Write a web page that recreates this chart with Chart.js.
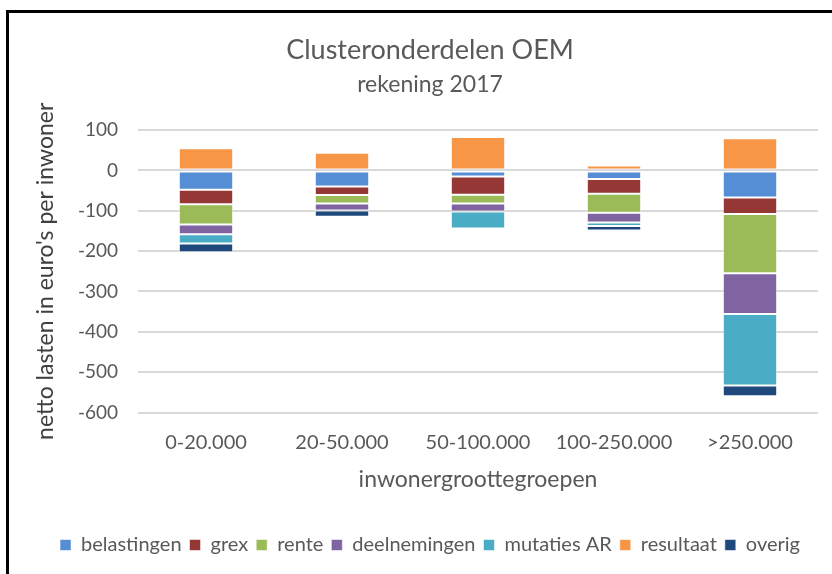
<!DOCTYPE html>
<html>
<head>
<meta charset="utf-8">
<script src="https://cdn.jsdelivr.net/npm/chart.js@4/dist/chart.umd.min.js"></script>
<style>
  html, body { margin: 0; padding: 0; background: #fff; }
  body { width: 832px; height: 574px; position: relative; overflow: hidden; }
  #frame { position: absolute; left: 6px; top: 10px; width: 900px; height: 700px; border: 3px solid #000; box-sizing: border-box; }
  #wrap { position: absolute; left: 0; top: 0; width: 832px; height: 574px; }
</style>
</head>
<body>
<div id="frame"></div>
<div id="wrap"><canvas id="c" width="832" height="574"></canvas></div>
<script>
// Netto lasten per inwoner (euro), per inwonergrootteklasse
const categories = ['0-20.000', '20-50.000', '50-100.000', '100-250.000', '>250.000'];
const belastingen  = [-48, -40, -15, -21, -67];
const grex         = [-36, -21, -45, -37, -41];
const rente        = [-50, -21, -22, -47, -147];
const deelnemingen = [-24, -17, -20, -24, -101];
const mutatiesAR   = [-23, 0, -42, -9, -177];
const resultaat    = [55, 44, 83, 12, 80];
const overig       = [-22, -16, -3, -11, -27];
const yTicks = [100, 0, -100, -200, -300, -400, -500, -600];

const FONT = 'Lato, "Open Sans", sans-serif';

function ds(label, data, color) {
  return {
    label, data,
    backgroundColor: color,
    borderColor: 'rgba(255,255,255,0.55)',
    borderWidth: 1,
    borderSkipped: false,
    stack: 's'
  };
}

new Chart(document.getElementById('c'), {
  type: 'bar',
  data: {
    labels: categories,
    datasets: [
      ds('belastingen', belastingen, '#558ED5'),
      ds('grex', grex, '#953735'),
      ds('rente', rente, '#9BBB59'),
      ds('deelnemingen', deelnemingen, '#8064A2'),
      ds('mutaties AR', mutatiesAR, '#4BACC6'),
      ds('resultaat', resultaat, '#F79646'),
      ds('overig', overig, '#1F497D')
    ]
  },
  options: {
    responsive: false,
    animation: false,
    layout: { padding: { left: 42, right: 14, top: 12, bottom: 9 } },
    datasets: { bar: { barPercentage: 1, categoryPercentage: 0.4 } },
    plugins: {
      title: {
        display: true,
        text: 'Clusteronderdelen OEM',
        color: '#595959',
        font: { family: FONT, size: 27, weight: 'normal', lineHeight: 1.2 },
        padding: { top: 21.8, bottom: 4 }
      },
      subtitle: {
        display: true,
        text: 'rekening 2017',
        color: '#595959',
        font: { family: FONT, size: 23, weight: 'normal', lineHeight: 1.2 },
        padding: { top: 1, bottom: 31.3 }
      },
      legend: {
        position: 'bottom',
        labels: {
          color: '#595959',
          font: { family: FONT, size: 20 },
          boxWidth: 11,
          boxHeight: 11,
          padding: 8
        }
      },
      tooltip: { enabled: false }
    },
    scales: {
      x: {
        stacked: true,
        grid: { display: false, drawTicks: false },
        border: { display: false },
        ticks: { color: '#595959', font: { family: FONT, size: 20 }, padding: 18 },
        title: {
          display: true,
          text: 'inwonergroottegroepen',
          color: '#595959',
          font: { family: FONT, size: 23, lineHeight: 1.2 },
          padding: { top: -6.3, bottom: 33.2 }
        }
      },
      y: {
        stacked: true,
        min: -600,
        max: 100,
        afterBuildTicks: (s) => { s.ticks = yTicks.map(v => ({ value: v })); },
        afterFit: (s) => { s.width = 96; },
        grid: { color: '#D9D9D9', lineWidth: 2, drawTicks: false },
        border: { display: false },
        ticks: { color: '#595959', font: { family: FONT, size: 19 }, padding: 20 },
        title: {
          display: true,
          text: "netto lasten in euro's per inwoner",
          color: '#404040',
          font: { family: FONT, size: 23, lineHeight: 1.2 },
          padding: { top: -10, bottom: 4 }
        }
      }
    }
  }
});
</script>
</body>
</html>
